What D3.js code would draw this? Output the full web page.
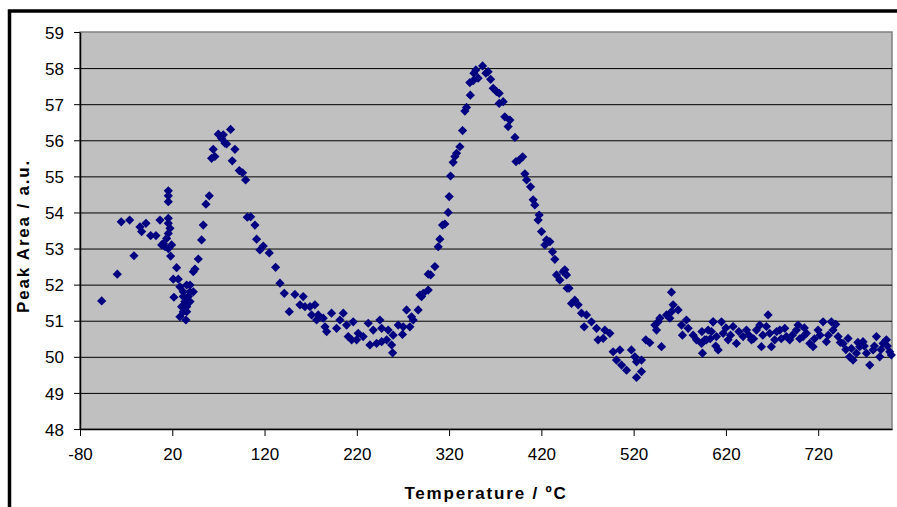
<!DOCTYPE html>
<html><head><meta charset="utf-8">
<script src="https://cdn.jsdelivr.net/npm/d3@7"></script>
<style>html,body{margin:0;padding:0;background:#fff;}svg{display:block;}</style>
</head><body>
<script>
const xTicks = [-80, 20, 120, 220, 320, 420, 520, 620, 720];
const yTicks = [48, 49, 50, 51, 52, 53, 54, 55, 56, 57, 58, 59];
const xTitle = "Temperature / ºC";
const yTitle = "Peak Area / a.u.";

const temperature = [
 -56.5,-39.6,-21.5,-35.3,-26.2,-15,-8.5,-13.2,-3.4,2.3,6.7,
 15.7,15.7,17.5,15.7,13.9,10.3,8.5,19.3,15.7,12.1,18.2,15.7,15.7,15.7,
 24.7,21.1,26.5,21.8,28.3,35.6,39.2,31.9,39.2,42.8,31.9,37.4,33.7,39.2,30.1,35.6,31.9,35.6,34.8,28.3,
 48.2,44.6,42.8,51.8,53.6,56.5,60.1,62.6,66.2,64.4,69.9,73.5,77.1,75.3,83.2,78.9,87.9,85,92.6,96.2,99.5,101.3,
 104.9,109.6,111.4,115,118.6,125.1,132,136.7,141.4,146.8,152.9,161.9,158.4,163.8,169.2,174.6,171,178.2,176.4,183.6,
 187.3,185.5,192.6,198.1,205.3,201.7,208.9,216.1,210.7,214.4,221.5,219.8,226.9,232.4,234.2,237.8,245,246.9,241.4,246.9,
 252.3,254,259.4,257.7,258.8,264.9,269.5,273.9,270.3,277.5,281.1,279.3,286.5,290.2,292,297.4,
 288.4,297.4,300,304.6,308.2,310,312.9,315.4,319,320.1,321.6,324.4,326.3,328.1,331.7,334.6,337.1,338.9,343,
 342.5,346.1,346.9,351.5,349,356.3,359.9,362.3,365,367.8,371.4,374.3,374.3,378.6,380.4,385.9,384,391.4,
 392.5,396,399.7,402.1,404,408.3,411.1,412.9,417.6,416.5,420.2,425.6,423.8,429.2,432.1,434.6,
 436.4,440,445.4,447.3,443.6,447.9,450,452.7,456.3,459.9,463.5,468.9,474.3,466.4,479.8,481.5,488.8,494.2,487,
 497.8,505.1,501.4,506.9,512.3,517.6,521.3,523.1,528.5,523.1,528.5,533.2,537.5,544.8,546.6,550.2,543,548.4,
 555.6,561,559.2,561,562.8,568.2,571.9,577.2,579.1,572.9,584.5,588.1,593.6,594.6,598.9,604.3,606.1,609.7,
 597.1,600.7,606.1,611.6,615.2,617,622.4,627.8,631.4,638.6,642.3,647.7,653.1,656.7,658.5,663.9,665.7,667.5,669.3,672.9,
 678.4,683.8,685.6,689.2,696.4,698.2,703.6,707.3,710.9,714.5,719.9,725.3,728.9,734.3,736.1,741.6,747,752.4,756,757.8,
 761.4,765,768.6,772.3,775.9,779.5,783.1,786.7,790.3,793.9,797.5,799.3,
 594,603,609,620,625,634,645,650,660,675,680,692,700,705,716,722,731,739,744,750,754,763,770,781,788,795
];
const peakArea = [
 51.55,52.29,52.8,53.74,53.79,53.6,53.7,53.47,53.36,53.36,53.79,
 53.84,53.7,53.56,53.42,53.28,53.14,53.1,53.1,53.0,53.05,52.79,54.6,54.46,54.3,
 52.47,52.15,52.15,51.65,51.94,51.99,51.99,51.8,51.8,51.8,51.67,51.67,51.53,51.53,51.39,51.39,51.25,51.25,51.02,51.11,
 52.71,52.43,52.36,53.24,53.65,54.23,54.46,55.5,55.55,55.75,56.17,56.05,55.92,56.15,56.3,55.9,55.75,55.43,55.16,55.1,54.9,53.87,
 53.88,53.65,53.26,52.96,53.07,52.88,52.48,52.04,51.76,51.25,51.73,51.67,51.44,51.39,51.39,51.44,51.16,51.16,51.02,51.07,
 50.7,50.83,51.21,50.79,51.21,51.02,50.88,50.97,50.56,50.47,50.65,50.47,50.56,50.93,50.33,50.74,51.02,50.79,50.37,50.42,
 50.47,50.74,50.6,50.33,50.11,50.88,50.62,51.3,50.83,50.83,51.02,51.11,51.3,51.67,51.76,52.29,
 51.71,51.85,52.27,52.5,53.05,53.26,53.65,53.68,54.0,54.44,55.01,55.39,55.55,55.64,55.82,56.27,56.81,56.91,57.25,
 57.6,57.65,57.86,57.72,57.95,58.06,57.86,57.9,57.69,57.44,57.35,57.3,57.02,57.07,56.65,56.56,56.38,56.08,
 55.41,55.45,55.54,55.07,54.9,54.71,54.35,54.21,53.93,53.79,53.47,53.24,53.1,53.19,52.91,52.7,
 52.27,52.13,52.41,52.27,52.36,51.9,51.9,51.48,51.57,51.44,51.21,51.16,50.97,50.83,50.79,50.47,50.74,50.65,50.51,
 50.14,50.19,49.91,49.77,49.63,50.19,50.0,49.86,49.91,49.43,49.59,50.47,50.39,50.74,50.97,50.28,50.88,51.07,
 51.16,51.25,51.07,51.79,51.44,51.3,50.88,51.02,50.79,50.6,50.6,50.47,50.37,50.1,50.47,50.7,50.97,50.56,
 50.47,50.74,50.97,50.19,50.97,50.65,50.47,50.84,50.37,50.56,50.74,50.47,50.74,50.88,50.28,50.84,51.16,50.65,50.28,50.47,
 50.74,50.79,50.56,50.47,50.74,50.88,50.56,50.65,50.37,50.28,50.74,50.97,50.42,50.97,50.74,50.56,50.37,50.51,50.23,49.91,
 50.1,50.28,50.42,50.1,49.77,50.19,50.56,50.0,50.37,50.47,50.14,50.05,
 50.7,50.5,50.3,50.8,50.6,50.7,50.6,50.5,50.6,50.7,50.5,50.6,50.5,50.8,50.5,50.6,50.6,50.9,50.4,50.2,50.0,50.4,50.3,50.3,50.2,50.3
];

const W = 897, H = 507;
const L = 80, R = 892, T = 32, B = 429;
const svg = d3.select("body").append("svg").attr("width", W).attr("height", H);
svg.append("rect").attr("width", W).attr("height", H).attr("fill", "#fff");

// outer frame
svg.append("rect").attr("x", 9.5).attr("y", 11).attr("width", 920).attr("height", 540)
  .attr("fill", "none").attr("stroke", "#000").attr("stroke-width", 3.5);

const x = d3.scaleLinear().domain([-80, 800]).range([L, R]);
const y = d3.scaleLinear().domain([48, 59]).range([B, T]);

// plot area
svg.append("rect").attr("x", L).attr("y", T).attr("width", R - L).attr("height", B - T)
  .attr("fill", "#C0C0C0").attr("stroke", "#808080").attr("stroke-width", 1.5);

// gridlines
const grid = svg.append("g").attr("transform", `translate(${L},0)`)
  .call(d3.axisLeft(y).tickValues(yTicks.filter(v => v > 48 && v < 59)).tickSize(-(R - L)).tickFormat(""));
grid.select(".domain").remove();
grid.selectAll("line").attr("stroke", "#000").attr("stroke-width", 1);

// axes
const fontFam = "'Liberation Sans', Arial, sans-serif";
const yAx = svg.append("g").attr("transform", `translate(${L},0)`)
  .call(d3.axisLeft(y).tickValues(yTicks).tickSize(6).tickSizeOuter(0).tickPadding(10).tickFormat(d3.format("d")));
const xAx = svg.append("g").attr("transform", `translate(0,${B})`)
  .call(d3.axisBottom(x).tickValues(xTicks).tickSize(7).tickSizeOuter(0).tickPadding(12).tickFormat(d3.format("d")));
[yAx, xAx].forEach(a => {
  a.select(".domain").attr("stroke", "#000").attr("stroke-width", 1.5);
  a.selectAll("line").attr("stroke", "#000").attr("stroke-width", 1);
  a.selectAll("text").attr("font-family", fontFam).attr("font-size", 17).attr("fill", "#000");
});
xAx.selectAll("text").text(d => d3.format("d")(d).replace("−", "-"));
yAx.selectAll("text").attr("dy", "0.36em");

// markers
const diamond = "M0,-4.6L4.6,0L0,4.6L-4.6,0Z";
svg.append("g").selectAll("path").data(temperature.map((t, i) => [t, peakArea[i]]))
  .join("path").attr("d", diamond)
  .attr("transform", d => `translate(${x(d[0])},${y(d[1])})`)
  .attr("fill", "#000080");

// titles
svg.append("text").attr("x", 486).attr("y", 499).attr("text-anchor", "middle")
  .attr("font-family", fontFam).attr("font-weight", "bold").attr("font-size", 17)
  .attr("letter-spacing", 1.8).text(xTitle);
svg.append("text").attr("transform", `translate(29,236) rotate(-90)`).attr("text-anchor", "middle")
  .attr("font-family", fontFam).attr("font-weight", "bold").attr("font-size", 17)
  .attr("letter-spacing", 1.8).text(yTitle);
</script>
</body></html>
